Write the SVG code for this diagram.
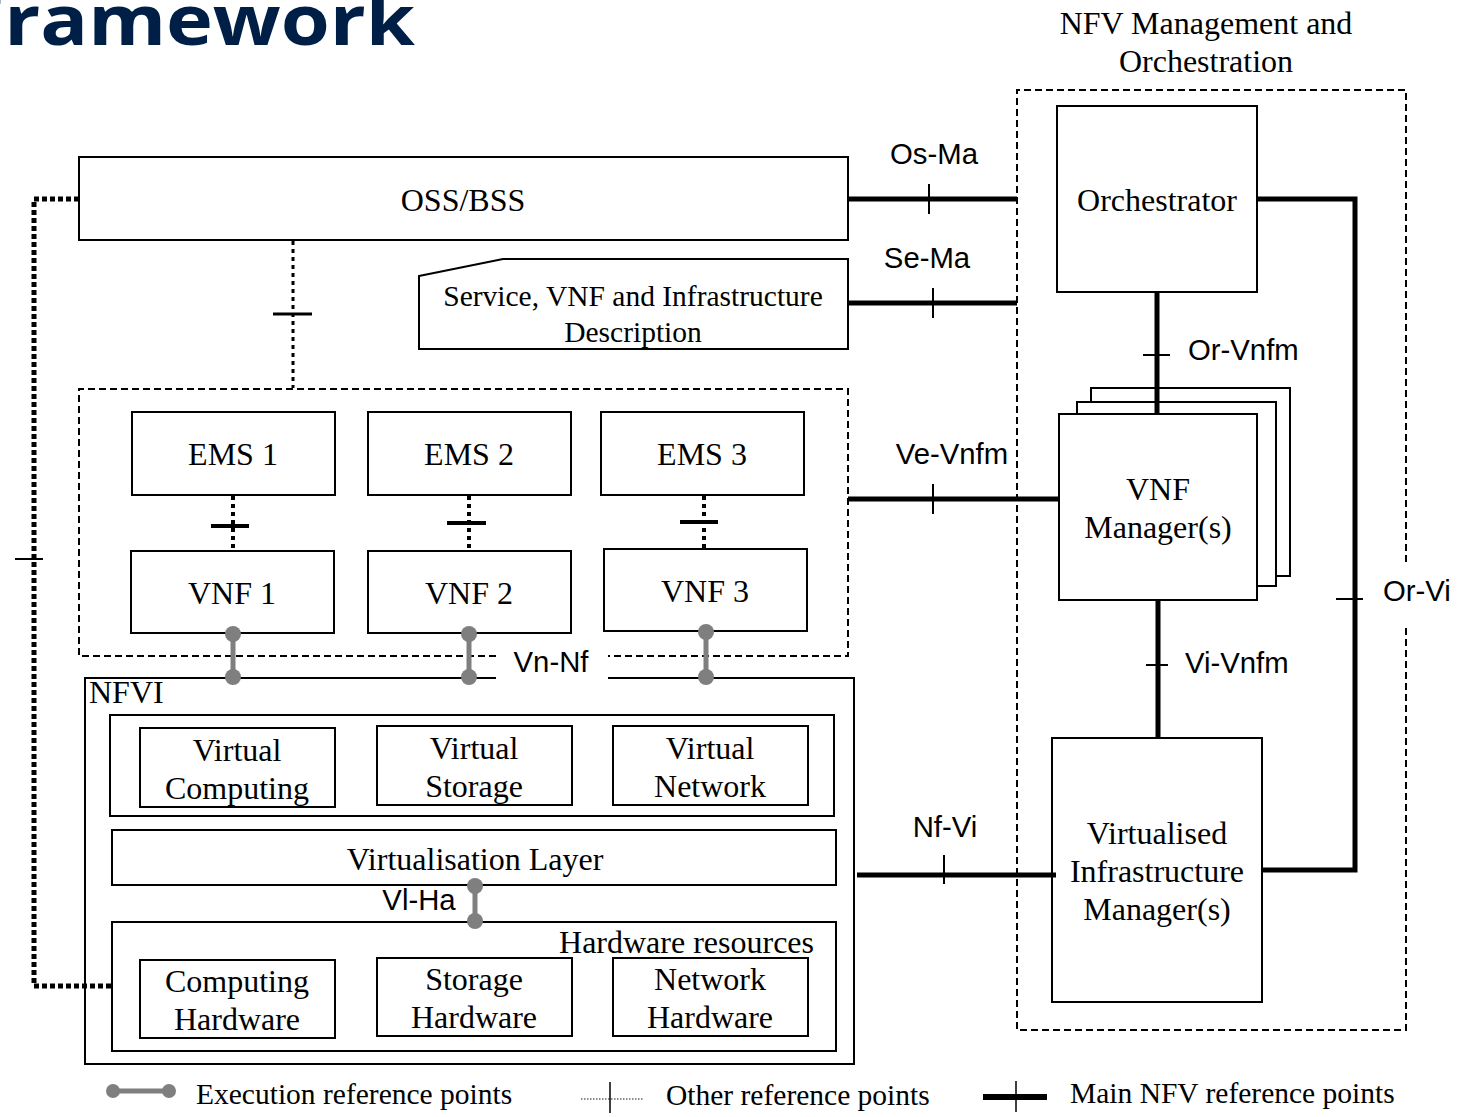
<svg xmlns="http://www.w3.org/2000/svg" width="1460" height="1117" viewBox="0 0 1460 1117">
<style>
.box{fill:#fff;stroke:#000;stroke-width:2}
.dbox{fill:none;stroke:#000;stroke-width:2;stroke-dasharray:7 4}
.t{font-family:"Liberation Serif","Times New Roman",serif;font-size:32px;fill:#000;text-anchor:middle}
.s{font-family:"Liberation Sans",Arial,sans-serif;font-size:29.3px;fill:#000;text-anchor:middle}
.sm{font-size:29.5px}
.st{text-anchor:start}
.main{stroke:#000;stroke-width:5;fill:none}
.tick{stroke:#000;stroke-width:2}
.exec{stroke:#7f7f7f;stroke-width:5}
.dot{fill:#7f7f7f}
.oth{stroke:#000;stroke-width:4;stroke-dasharray:4 4;fill:none}
.othtick{stroke:#000;stroke-width:4}
</style>
<text transform="scale(1.133,1)" x="366.3" y="45" font-family="'Open Sans',sans-serif" font-weight="bold" font-size="70" fill="#001f47" text-anchor="end">Framework</text>

<g id="mano-title">
<text class="t" x="1206" y="34">NFV Management and</text>
<text class="t" x="1206" y="72">Orchestration</text>
</g>
<g id="mano">
<path d="M1406 562 V90 H1017 V1030 H1406 V628" class="dbox"/>
</g>
<g id="ems-vnf-group">
<path d="M496 656 H79 V389 H848 V656 H608" class="dbox"/>
</g>

<g id="oss-bss"><rect class="box" x="79" y="157" width="769" height="83"/><text class="t" x="463" y="211">OSS/BSS</text></g>
<g id="service-desc"><path class="box" d="M419 276 L503 259 H848 V349 H419 Z"/><text class="t sm" x="633" y="306">Service, VNF and Infrastructure</text><text class="t sm" x="633" y="342">Description</text></g>
<g id="orchestrator"><rect class="box" x="1057" y="106" width="200" height="186"/><text class="t" x="1157" y="211">Orchestrator</text></g>
<g id="ems1"><rect class="box" x="132" y="412" width="203" height="83"/><text class="t" x="233" y="465">EMS 1</text></g>
<g id="ems2"><rect class="box" x="368" y="412" width="203" height="83"/><text class="t" x="469" y="465">EMS 2</text></g>
<g id="ems3"><rect class="box" x="601" y="412" width="203" height="83"/><text class="t" x="702" y="465">EMS 3</text></g>
<g id="vnf1"><rect class="box" x="131" y="551" width="203" height="82"/><text class="t" x="232" y="604">VNF 1</text></g>
<g id="vnf2"><rect class="box" x="368" y="551" width="203" height="82"/><text class="t" x="469" y="604">VNF 2</text></g>
<g id="vnf3"><rect class="box" x="604" y="549" width="203" height="82"/><text class="t" x="705" y="602">VNF 3</text></g>
<g id="vnfm">
<rect class="box" x="1091" y="388" width="199" height="188"/>
<rect class="box" x="1077" y="402" width="199" height="184"/>
<rect class="box" x="1059" y="414" width="198" height="186"/>
<text class="t" x="1158" y="500">VNF</text><text class="t" x="1158" y="538">Manager(s)</text>
</g>
<g id="vim"><rect class="box" x="1052" y="738" width="210" height="264"/><text class="t" x="1157" y="844">Virtualised</text><text class="t" x="1157" y="882">Infrastructure</text><text class="t" x="1157" y="920">Manager(s)</text></g>

<g id="nfvi">
<path d="M496 678 H85 V1064 H854 V678 H608" fill="none" stroke="#000" stroke-width="2"/>
<text class="t st" x="89" y="703">NFVI</text>
</g>
<g id="virtual-resources"><rect class="box" x="110" y="715" width="724" height="101"/></g>
<g id="virtual-computing"><rect class="box" x="140" y="728" width="195" height="79"/><text class="t" x="237" y="761">Virtual</text><text class="t" x="237" y="799">Computing</text></g>
<g id="virtual-storage"><rect class="box" x="377" y="726" width="195" height="79"/><text class="t" x="474" y="759">Virtual</text><text class="t" x="474" y="797">Storage</text></g>
<g id="virtual-network"><rect class="box" x="613" y="726" width="195" height="79"/><text class="t" x="710" y="759">Virtual</text><text class="t" x="710" y="797">Network</text></g>
<g id="virtualisation-layer"><rect class="box" x="112" y="830" width="724" height="55"/><text class="t" x="475" y="870">Virtualisation Layer</text></g>
<g id="hardware-resources"><rect class="box" x="112" y="922" width="724" height="129"/><text class="t" x="814" y="953" style="text-anchor:end">Hardware resources</text></g>
<g id="computing-hw"><rect class="box" x="140" y="960" width="195" height="78"/><text class="t" x="237" y="992">Computing</text><text class="t" x="237" y="1030">Hardware</text></g>
<g id="storage-hw"><rect class="box" x="377" y="958" width="195" height="78"/><text class="t" x="474" y="990">Storage</text><text class="t" x="474" y="1028">Hardware</text></g>
<g id="network-hw"><rect class="box" x="613" y="958" width="195" height="78"/><text class="t" x="710" y="990">Network</text><text class="t" x="710" y="1028">Hardware</text></g>

<g id="connectors">
<line class="main" x1="848" y1="199" x2="1017" y2="199"/><line class="tick" x1="929" y1="184" x2="929" y2="214"/>
<text class="s" x="934" y="164">Os-Ma</text>
<line class="main" x1="848" y1="303" x2="1017" y2="303"/><line class="tick" x1="933" y1="288" x2="933" y2="318"/>
<text class="s" x="927" y="268">Se-Ma</text>
<line class="main" x1="1157" y1="292" x2="1157" y2="414"/><line class="tick" x1="1143" y1="355" x2="1170" y2="355"/>
<text class="s st" x="1188" y="360">Or-Vnfm</text>
<line class="main" x1="848" y1="499" x2="1059" y2="499"/><line class="tick" x1="933" y1="484" x2="933" y2="514"/>
<text class="s" x="952" y="464">Ve-Vnfm</text>
<line class="main" x1="1158" y1="600" x2="1158" y2="738"/><line class="tick" x1="1146" y1="665" x2="1168" y2="665"/>
<text class="s st" x="1185" y="673">Vi-Vnfm</text>
<path class="main" d="M1257 199 H1355 V870 H1262"/><line class="tick" x1="1336" y1="599" x2="1363" y2="599"/>
<text class="s st" x="1383" y="601">Or-Vi</text>
<line class="main" x1="857" y1="875" x2="1056" y2="875"/><line class="tick" x1="944" y1="855" x2="944" y2="884"/>
<text class="s" x="945" y="837">Nf-Vi</text>
<line class="oth" style="stroke-width:3" x1="293" y1="241" x2="293" y2="388"/><line class="othtick" style="stroke-width:3" x1="273" y1="314" x2="312" y2="314"/>
<line class="oth" x1="233" y1="496" x2="233" y2="551"/><line class="othtick" x1="211" y1="526" x2="249" y2="526"/>
<line class="oth" x1="469" y1="496" x2="469" y2="551"/><line class="othtick" x1="447" y1="523" x2="486" y2="523"/>
<line class="oth" x1="704" y1="496" x2="704" y2="549"/><line class="othtick" x1="680" y1="522" x2="718" y2="522"/>
<path d="M79 199 H34 V986 H112" fill="none" stroke="#000" stroke-width="5" stroke-dasharray="5 3"/>
<line class="tick" x1="15" y1="559" x2="43" y2="559"/>
<line class="exec" x1="233" y1="634" x2="233" y2="677"/><circle class="dot" cx="233" cy="634" r="8"/><circle class="dot" cx="233" cy="677" r="8"/>
<line class="exec" x1="469" y1="634" x2="469" y2="677"/><circle class="dot" cx="469" cy="634" r="8"/><circle class="dot" cx="469" cy="677" r="8"/>
<line class="exec" x1="706" y1="632" x2="706" y2="677"/><circle class="dot" cx="706" cy="632" r="8"/><circle class="dot" cx="706" cy="677" r="8"/>
<text class="s" x="551" y="672">Vn-Nf</text>
<line class="exec" x1="475" y1="886" x2="475" y2="921"/><circle class="dot" cx="475" cy="886" r="8"/><circle class="dot" cx="475" cy="921" r="8"/>
<text class="s" x="419" y="910">Vl-Ha</text>
</g>

<g id="legend">
<line class="exec" x1="113" y1="1091" x2="169" y2="1091"/><circle class="dot" cx="113" cy="1091" r="7"/><circle class="dot" cx="169" cy="1091" r="7"/>
<text class="t sm st" x="196" y="1104">Execution reference points</text>
<line x1="581" y1="1099" x2="644" y2="1099" stroke="#666" stroke-width="1.5" stroke-dasharray="1.5 1.5"/><line x1="610" y1="1082" x2="610" y2="1113" stroke="#000" stroke-width="1.5"/>
<text class="t sm st" x="666" y="1105">Other reference points</text>
<line x1="983" y1="1097" x2="1047" y2="1097" stroke="#000" stroke-width="6"/><line x1="1016" y1="1081" x2="1016" y2="1112" stroke="#000" stroke-width="1.5"/>
<text class="t sm st" x="1070" y="1103">Main NFV reference points</text>
</g>
</svg>
